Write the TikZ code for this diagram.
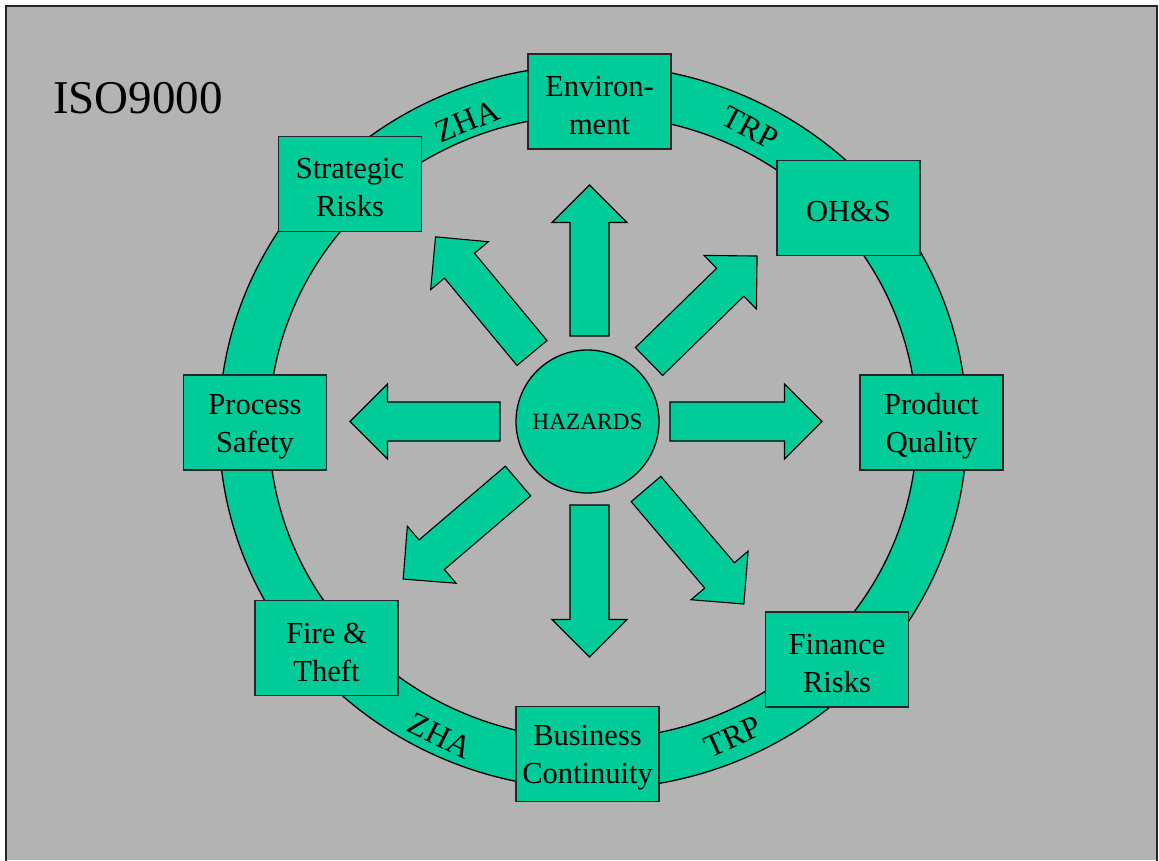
\documentclass[tikz,border=0pt]{standalone}
\usepackage{fontspec}
\setmainfont{Liberation Serif}
\definecolor{slidegray}{HTML}{B3B3B3}
\definecolor{hazgreen}{HTML}{00CC99}
\tikzset{
  topic/.style={draw=black!85, line width=1.3pt, fill=hazgreen,
    minimum width=143pt, minimum height=95pt, inner sep=0pt},
  topictext/.style={inner sep=0pt, align=center, font=\fontsize{30.5}{38}\selectfont},
  blockarrow/.style={draw=black, line width=1.1pt, fill=hazgreen, line join=miter},
  ringlabel/.style={font=\fontsize{32}{36}\selectfont, inner sep=0pt},
  ringline/.style={draw=black, line width=1.3pt},
}
% block arrow: start x, start y, direction angle, total length
\newcommand\hazardarrow[4]{%
  \begin{scope}[shift={(#1,#2)}, rotate=#3]
    \draw[blockarrow] (0,19.5) -- ({#4-37.5},19.5) -- ({#4-37.5},37.5) -- (#4,0)
      -- ({#4-37.5},-37.5) -- ({#4-37.5},-19.5) -- (0,-19.5) -- cycle;
  \end{scope}}
% topic box: name, x, y, text
\newcommand\topicbox[4]{%
  \node[topic] (#1) at (#2,#3) {};
  \node[topictext] (#1-text) at ([yshift=-4pt]#1.center) {#4};}
\begin{document}
\begin{tikzpicture}[x=1pt, y=-1pt]
  \useasboundingbox (0,0) rectangle (1159,860);
  % slide background and frame
  \fill[slidegray] (6,6) rectangle (1157,860);
  \draw[line width=2pt, black!85] (6,880) -- (6,6) -- (1157,6) -- (1157,880);

  \node[anchor=base west, inner sep=0pt, font=\fontsize{47}{56}\selectfont] (iso) at (53,113) {ISO9000};

  % the ring
  \fill[hazgreen, even odd rule] (593,427) ellipse [x radius=374pt, y radius=362pt]
                                 (593,427) ellipse [x radius=324pt, y radius=312pt];
  \draw[ringline] (593,427) ellipse [x radius=374pt, y radius=362pt];
  \draw[ringline] (593,427) ellipse [x radius=324pt, y radius=312pt];

  \node[ringlabel, rotate=22.4]  (zhatop) at (467,121) {ZHA};
  \node[ringlabel, rotate=-27.7] (trptop) at (750,128) {TRP};
  \node[ringlabel, rotate=-26.4] (zhabot) at (440,736) {ZHA};
  \node[ringlabel, rotate=24.3]  (trpbot) at (733,737) {TRP};

  % topic boxes on the ring
  \topicbox{env}{599.5}{101.5}{Environ-\\ment}
  \topicbox{strat}{350}{184}{Strategic\\Risks}
  \topicbox{ohs}{848.5}{208}{OH\&S}
  \topicbox{proc}{255}{422.5}{Process\\Safety}
  \topicbox{prod}{931.5}{422.5}{Product\\Quality}
  \topicbox{fire}{326.5}{648}{Fire \&\\Theft}
  \topicbox{fin}{837}{659.5}{Finance\\Risks}
  \topicbox{bus}{587.5}{754}{Business\\Continuity}

  % centre
  \node[circle, draw=black, line width=1.3pt, fill=hazgreen, minimum size=143pt,
        inner sep=0pt, font=\fontsize{23.3}{28}\selectfont] (haz) at (587.5,421.5) {HAZARDS};

  % arrows radiating out of the centre
  \hazardarrow{589.5}{336}{90}{151}
  \hazardarrow{589.5}{505}{-90}{152}
  \hazardarrow{670}{421.5}{0}{152}
  \hazardarrow{500}{421.5}{180}{150}
  \hazardarrow{532}{353}{129.7}{151}
  \hazardarrow{649}{361.5}{44.3}{151}
  \hazardarrow{518}{481}{220.5}{151}
  \hazardarrow{646}{489}{-49.6}{151}
\end{tikzpicture}
\end{document}
